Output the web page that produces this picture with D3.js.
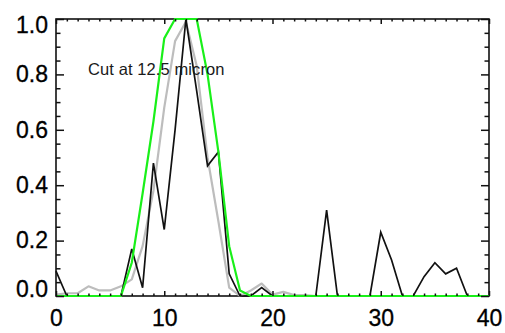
<!DOCTYPE html>
<html>
<head>
<meta charset="utf-8">
<script src="https://cdn.jsdelivr.net/npm/d3@7"></script>
<style>
  body { margin: 0; background: #fff; }
  text { font-family: "Liberation Sans", Arial, Helvetica, sans-serif; }
</style>
</head>
<body>
<svg width="505" height="333"></svg>
<script>
// wavelength grid (micron)
const xValues = [0,1,2,3,4,5,6,7,8,9,10,11,12,13,14,15,16,17,18,19,20,
                 21,22,23,24,25,26,27,28,29,30,31,32,33,34,35,36,37,38,39,40];

const blackValues = [0.09,0,0,0,0,0,0,0.17,0.03,0.48,0.24,0.6,1.0,0.74,0.47,0.52,0.08,0,0,0.03,0,
                     0,0,0,0,0.31,0,0,0,0,0.23,0.13,0,0,0.07,0.12,0.08,0.1,0,0,0];

const grayValues = [0.005,0.01,0.01,0.035,0.02,0.02,0.035,0.06,0.18,0.38,0.68,0.92,0.99,0.83,0.5,0.27,0.03,0,0.02,0.045,0.005,
                    0.015,0.003,0.003,0,0,0,0,0,0,0,0,0,0,0,0,0,0,0,0,0];

const greenValues = [0,0,0,0,0,0,0,0.12,0.37,0.63,0.93,1.0,1.0,1.0,0.8,0.52,0.18,0.02,0,0,0,
                     0,0,0,0,0,0,0,0,0,0,0,0,0,0,0,0,0,0,0,0];

const xTicks = [0,10,20,30,40];
const xMinor = [1,2,3,4,5,6,7,8,9,11,12,13,14,15,16,17,18,19,21,22,23,24,25,26,27,28,29,
                31,32,33,34,35,36,37,38,39];
const yTicks = [0.0,0.2,0.4,0.6,0.8,1.0];
const yMinor = [0.05,0.1,0.15,0.25,0.3,0.35,0.45,0.5,0.55,0.65,0.7,0.75,0.85,0.9,0.95];
const label = 'Cut at 12.5 micron';

function Start(){
    const svg = d3.select('svg');
    const margin = {left: 56, right: 16, top: 19, bottom: 37};
    const width = +svg.attr('width');
    const height = +svg.attr('height');

    const x = d3.scaleLinear().domain([0,40]).range([margin.left, width - margin.right]);
    const y = d3.scaleLinear().domain([0,1]).range([height - margin.bottom, margin.top]);

    // frame
    svg.append('rect')
        .attr('x', x(0))
        .attr('y', y(1))
        .attr('width', x(40) - x(0))
        .attr('height', y(0) - y(1))
        .attr('fill','none')
        .attr('stroke','#111')
        .attr('stroke-width',1.6);

    const line = vals => d3.line()
        .x((d,i) => x(xValues[i]))
        .y(d => y(d))(vals);

    svg.append('path')
        .attr('d', line(grayValues))
        .attr('fill','none')
        .attr('stroke','#bdbdbd')
        .attr('stroke-width',2.2)
        .attr('stroke-linejoin','round');

    svg.append('path')
        .attr('d', line(blackValues))
        .attr('fill','none')
        .attr('stroke','#111')
        .attr('stroke-width',1.7);

    svg.append('path')
        .attr('d', line(greenValues))
        .attr('fill','none')
        .attr('stroke','#19f019')
        .attr('stroke-width',2.2);

    // ticks
    const axes = [
        {axis: d3.axisBottom(x).tickValues(xTicks).tickSize(-5).tickPadding(14).tickFormat(d3.format('d')), at: `translate(0,${y(0)})`},
        {axis: d3.axisBottom(x).tickValues(xMinor).tickSize(-2.5).tickFormat(''), at: `translate(0,${y(0)})`},
        {axis: d3.axisTop(x).tickValues(xTicks).tickSize(-5).tickFormat(''), at: `translate(0,${y(1)})`},
        {axis: d3.axisTop(x).tickValues(xMinor).tickSize(-2.5).tickFormat(''), at: `translate(0,${y(1)})`},
        {axis: d3.axisLeft(y).tickValues(yTicks).tickSize(-8).tickPadding(8).tickFormat(d3.format('.1f')), at: `translate(${x(0)},0)`, cls: 'yl'},
        {axis: d3.axisLeft(y).tickValues(yMinor).tickSize(-4.5).tickFormat(''), at: `translate(${x(0)},0)`},
        {axis: d3.axisRight(y).tickValues(yTicks).tickSize(-8).tickFormat(''), at: `translate(${x(40)},0)`},
        {axis: d3.axisRight(y).tickValues(yMinor).tickSize(-4.5).tickFormat(''), at: `translate(${x(40)},0)`}
    ];
    axes.forEach(a => {
        const g = svg.append('g')
            .attr('class', a.cls || '')
            .attr('transform', a.at)
            .call(a.axis);
        g.select('.domain').remove();
        g.selectAll('line').attr('stroke','#111').attr('stroke-width',1.5);
        g.selectAll('text')
            .attr('fill','#000')
            .attr('stroke','#000')
            .attr('stroke-width',0.3)
            .style('font-size','23px');
    });

    // keep end labels inside the frame height, like the original
    svg.selectAll('.yl text')
        .attr('y', d => d === 1 ? 6 : (d === 0 ? -7 : 0));

    svg.append('text')
        .attr('x', x(3) - 0.5)
        .attr('y', y(0.8) + 1)
        .attr('fill','#1a1a1a')
        .style('font-size','16.5px')
        .style('letter-spacing','0.1px')
        .text(label);
}
Start();
</script>
</body>
</html>
